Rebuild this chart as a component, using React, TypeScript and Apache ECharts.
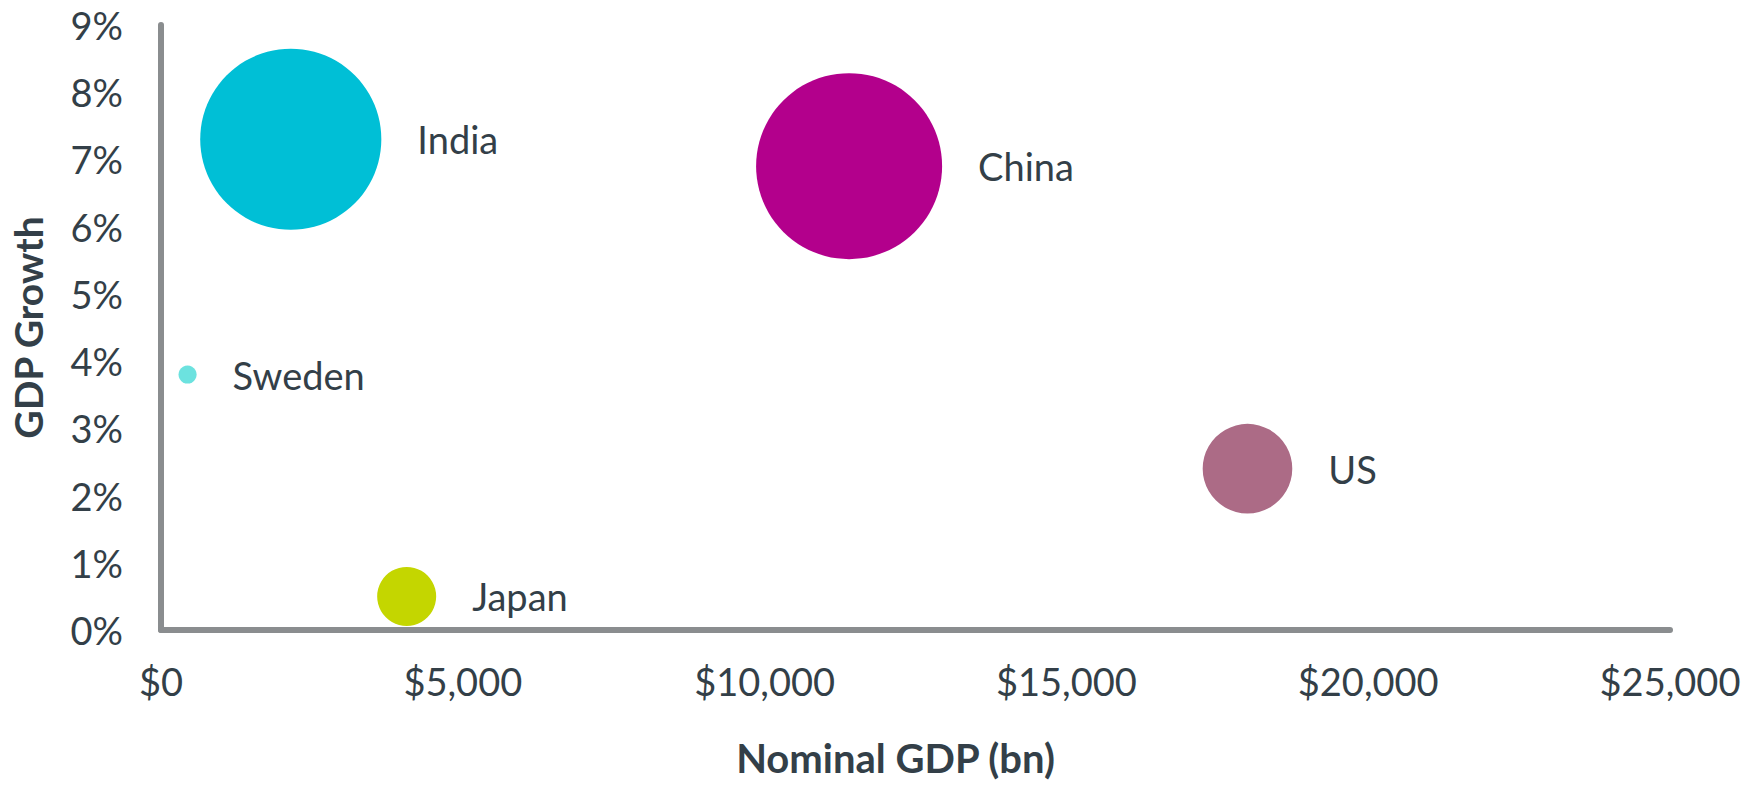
import React, { useEffect, useRef } from "react";
import * as echarts from "echarts";

const countries = ["India", "China", "US", "Sweden", "Japan"];
const nominalGdpBn = [2150, 11400, 18000, 440, 4070];
const gdpGrowthPct = [7.3, 6.9, 2.4, 3.8, 0.5];
const bubbleSize = [1300, 1371, 318, 13, 138];
const colors = ["#00BFD6", "#B3008C", "#AC6B86", "#6CE2DF", "#C4D600"];

const TEXT = "#333F48";
const AXIS = "#8A8D8F";
const FONT = "Lato";
const MAX_DIAM = 186;
const maxSize = Math.max(...bubbleSize);

function fmtMoney(v: number) {
  return "$" + String(Math.round(v)).replace(/\B(?=(\d{3})+(?!\d))/g, ",");
}

export default function App() {
  const ref = useRef<HTMLDivElement>(null);
  useEffect(() => {
    if (!ref.current) return;
    const chart = echarts.init(ref.current, undefined, { renderer: "svg" });
    const data = countries.map((c, i) => ({
      name: c,
      value: [nominalGdpBn[i], gdpGrowthPct[i], bubbleSize[i]],
      itemStyle: { color: colors[i], opacity: 1 },
    }));
    chart.setOption({
      animation: false,
      backgroundColor: "#ffffff",
      grid: { left: 158, right: 93, top: 25, bottom: 155, containLabel: false },
      xAxis: {
        type: "value",
        min: 0,
        max: 25000,
        interval: 5000,
        name: "Nominal GDP (bn)",
        nameLocation: "middle",
        nameGap: 108,
        nameTextStyle: {
          color: TEXT,
          fontSize: 40,
          fontWeight: "bold",
          fontFamily: FONT,
          padding: [0, 40, 0, 0],
        },
        axisLine: { show: true, lineStyle: { color: AXIS, width: 6, cap: "round" } },
        axisTick: { show: false },
        splitLine: { show: false },
        axisLabel: {
          color: TEXT,
          fontSize: 38,
          fontFamily: FONT,
          margin: 32,
          formatter: (v: number) => fmtMoney(v),
        },
      },
      yAxis: {
        type: "value",
        min: 0,
        max: 9,
        interval: 1,
        name: "GDP Growth",
        nameLocation: "middle",
        nameGap: 114,
        nameRotate: 90,
        nameTextStyle: { color: TEXT, fontSize: 39, fontWeight: "bold", fontFamily: FONT },
        axisLine: { show: true, lineStyle: { color: AXIS, width: 6, cap: "round" } },
        axisTick: { show: false },
        splitLine: { show: false },
        axisLabel: {
          color: TEXT,
          fontSize: 38,
          fontFamily: FONT,
          margin: 38,
          formatter: "{value}%",
        },
      },
      series: [
        {
          type: "scatter",
          data,
          symbol: "circle",
          symbolSize: (val: number[]) => MAX_DIAM * Math.sqrt(val[2] / maxSize),
          label: {
            show: true,
            position: "right",
            distance: 36,
            formatter: "{b}",
            color: TEXT,
            fontSize: 38,
            fontFamily: FONT,
          },
          emphasis: { disabled: true },
        },
      ],
    });
    return () => chart.dispose();
  }, []);
  return (
    <div
      ref={ref}
      style={{ position: "fixed", left: 0, top: 0, width: 1763, height: 785 }}
    />
  );
}
